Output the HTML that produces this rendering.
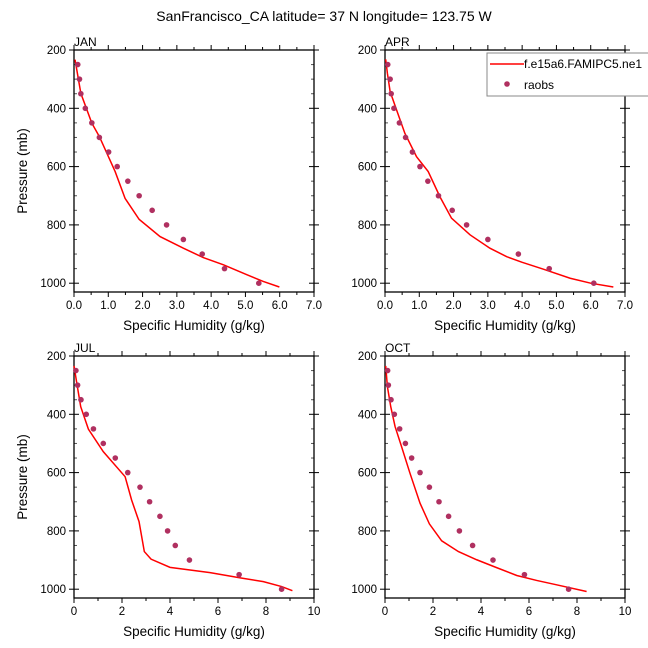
<!DOCTYPE html>
<html><head><meta charset="utf-8"><style>
html,body{margin:0;padding:0;background:#fff;}
svg{display:block;font-family:"Liberation Sans",Arial,sans-serif;}
</style></head><body>
<svg id="chart" width="648" height="648" viewBox="0 0 648 648">
<text x="324" y="21" text-anchor="middle" font-size="14">SanFrancisco_CA  latitude= 37 N longitude= 123.75 W</text>
</svg>
<script>
// pressure levels of observations (mb)
const obsP = [250,300,350,400,450,500,550,600,650,700,750,800,850,900,950,1000];
const janObs = [0.11,0.16,0.2,0.33,0.52,0.74,1.01,1.26,1.57,1.9,2.28,2.7,3.19,3.74,4.39,5.39];
const aprObs = [0.08,0.15,0.18,0.26,0.42,0.6,0.8,1.02,1.25,1.56,1.96,2.38,3.0,3.89,4.79,6.09];
const julObs = [0.08,0.15,0.29,0.51,0.81,1.22,1.72,2.24,2.75,3.15,3.58,3.9,4.22,4.81,6.88,8.65];
const octObs = [0.11,0.14,0.25,0.39,0.61,0.85,1.11,1.46,1.85,2.25,2.65,3.1,3.65,4.5,5.81,7.65];
// model profiles
const janModP = [233,349,451,497,617,709,781,840,880,912,937,971,994,1013];
const janModQ = [0.03,0.2,0.52,0.74,1.2,1.49,1.9,2.51,3.19,3.77,4.36,5.04,5.52,5.99];
const aprModP = [232,280,343,400,486,566,617,703,777,834,880,909,928,952,983,1000,1013];
const aprModQ = [0.02,0.07,0.15,0.32,0.58,0.92,1.26,1.6,1.94,2.48,3.06,3.55,3.99,4.62,5.4,6.0,6.66];
const julModP = [234,305,374,451,528,614,694,768,871,897,925,943,962,974,991,1005];
const julModQ = [0,0.14,0.28,0.6,1.22,2.13,2.4,2.71,2.93,3.21,4.0,5.67,6.99,7.89,8.65,9.1];
const octModP = [234,305,374,442,511,602,705,776,834,871,899,926,953,970,985,1008];
const octModQ = [0.03,0.1,0.24,0.42,0.69,1.04,1.46,1.85,2.36,3.06,3.82,4.65,5.49,6.32,7.15,8.4];
const ticks7 = ["0.0","1.0","2.0","3.0","4.0","5.0","6.0","7.0"];
const ticks10 = ["0","2","4","6","8","10"];
const pTicks = [200,400,600,800,1000];

const NS="http://www.w3.org/2000/svg";
const svg=document.getElementById('chart');
function mk(tag,attrs,parent){const e=document.createElementNS(NS,tag);for(const k in attrs)e.setAttribute(k,attrs[k]);(parent||svg).appendChild(e);return e;}

function panel(name,x0,y0,xmax,xt,xminor,obs,mp,mq,left){
  const W=240,H=242,x1=x0+W,y1=y0+H;
  const g=mk('g',{});
  
  
  const sx=v=>x0+v/xmax*W;
  const sy=p=>y0+(p-200)*58.3/200;
  const step=xmax/(xt.length-1);
  for(let v=0;v<=xmax+1e-9;v+=xminor){
    const X=sx(v);const maj=Math.abs(v/step-Math.round(v/step))<1e-6;
    const L=maj?5:3;
    mk('line',{x1:X,x2:X,y1:y0,y2:y0-L,stroke:'#000','stroke-width':1},g);
    mk('line',{x1:X,x2:X,y1:y1,y2:y1+L,stroke:'#000','stroke-width':1},g);
  }
  for(let p=200;p<=1030;p+=50){
    const Y=sy(p);const maj=p%200===0;
    if(maj){
      mk('line',{x1:x0-5,x2:x0+5,y1:Y,y2:Y,stroke:'#000','stroke-width':1},g);
      mk('line',{x1:x1-5,x2:x1+5,y1:Y,y2:Y,stroke:'#000','stroke-width':1},g);
    }else{
      mk('line',{x1:x0,x2:x0+3,y1:Y,y2:Y,stroke:'#555','stroke-width':1},g);
      mk('line',{x1:x1-3,x2:x1,y1:Y,y2:Y,stroke:'#555','stroke-width':1},g);
    }
  }
  mk('rect',{x:x0,y:y0,width:W,height:H,fill:'none',stroke:'#000','stroke-width':1.3},g);
  xt.forEach((t,i)=>{const e=mk('text',{x:sx(i*step),y:y1+17,'text-anchor':'middle','font-size':11.5},g);e.textContent=t;
    
    });
  pTicks.forEach(p=>{const e=mk('text',{x:x0-8,y:sy(p)+4,'text-anchor':'end','font-size':11.5},g);e.textContent=p;
    
    });
  const xl=mk('text',{x:x0+W/2,y:y1+38,'text-anchor':'middle','font-size':13.5},g);xl.textContent='Specific Humidity (g/kg)';
  
  
  if(left){const yl=mk('text',{x:0,y:0,'text-anchor':'middle','font-size':13.5,transform:`translate(27,${y0+H/2}) rotate(-90)`},g);yl.textContent='Pressure (mb)';
    
    }
  const tl=mk('text',{x:x0,y:y0-4,'font-size':12},g);tl.textContent=name.toUpperCase();
  
  
  const line=mk('polyline',{points:mp.map((p,i)=>sx(mq[i])+','+sy(p)).join(' '),fill:'none',stroke:'#f00','stroke-width':1.5},g);
  
  
  obs.forEach((q,i)=>{const c=mk('circle',{cx:sx(q),cy:sy(obsP[i]),r:2.8,fill:'#b03060'},g);
    
    });
}
panel('jan',74,50,7,ticks7,0.5,janObs,janModP,janModQ,true);
panel('apr',385,50,7,ticks7,0.5,aprObs,aprModP,aprModQ,false);
panel('jul',74,356,10,ticks10,1,julObs,julModP,julModQ,true);
panel('oct',385,356,10,ticks10,1,octObs,octModP,octModQ,false);
const lg=mk('g',{});


mk('rect',{x:487,y:53,width:170,height:43,fill:'#fff',stroke:'#888','stroke-width':1},lg);
const ll=mk('line',{x1:490,x2:524,y1:64,y2:64,stroke:'#f00','stroke-width':1.5},lg);


const lt1=mk('text',{x:524,y:68,'font-size':12},lg);lt1.textContent='f.e15a6.FAMIPC5.ne1';


const lc=mk('circle',{cx:507,cy:84,r:2.8,fill:'#b03060'},lg);


const lt2=mk('text',{x:524,y:89,'font-size':12},lg);lt2.textContent='raobs';


</script>
</body></html>
